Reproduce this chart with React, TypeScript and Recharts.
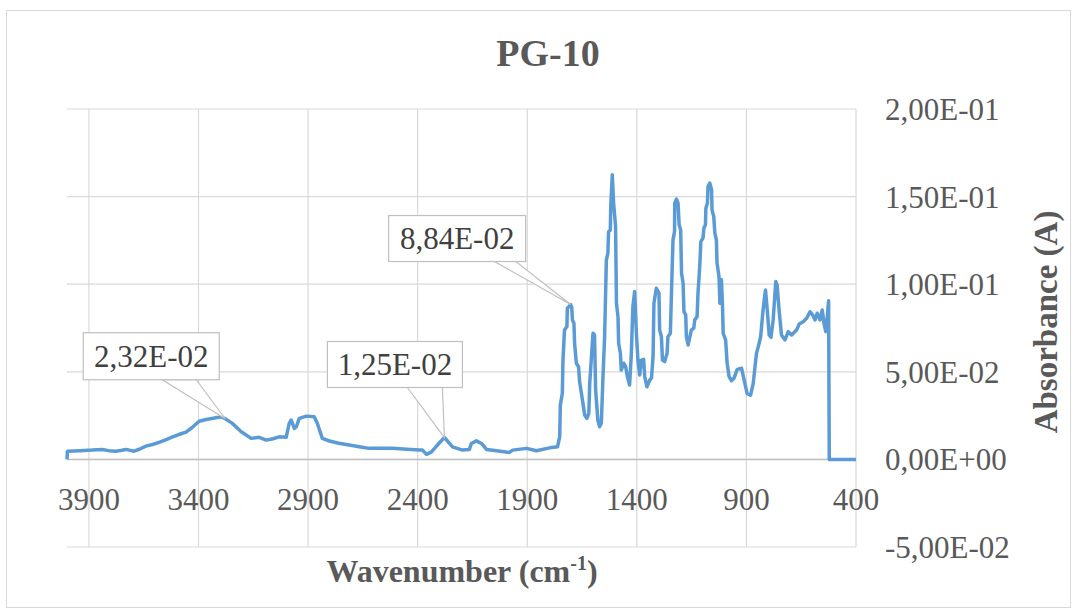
import { LineChart, Line, XAxis, YAxis, CartesianGrid, ReferenceLine, ReferenceDot } from 'recharts'

// FTIR spectrum of PG-10, wavenumber (cm-1) against absorbance (A)
const wavenumber = [
  4000, 3998, 3940, 3886, 3840, 3810, 3777, 3750, 3731, 3694, 3670, 3640, 3610, 3580, 3550, 3521,
  3490, 3457, 3429, 3397, 3365, 3320, 3295, 3278, 3247, 3205, 3160, 3123, 3091, 3060, 3032, 3000,
  2986, 2977, 2963, 2954, 2940, 2908, 2872, 2858, 2835, 2803, 2760, 2712, 2660, 2621, 2516, 2450,
  2392, 2378, 2360, 2337, 2310, 2278, 2241, 2196, 2164, 2155, 2132, 2109, 2086, 2040, 1981, 1967,
  1903, 1858, 1798, 1762, 1752, 1749, 1740, 1737, 1730, 1719, 1717, 1708, 1702, 1697, 1694, 1687,
  1684, 1676, 1666, 1661, 1653, 1646, 1638, 1628, 1619, 1615, 1608, 1600, 1593, 1588, 1578, 1570,
  1562, 1555, 1547, 1539, 1532, 1529, 1521, 1519, 1512, 1506, 1497, 1493, 1486, 1483, 1475, 1471,
  1460, 1451, 1443, 1433, 1425, 1418, 1410, 1402, 1395, 1387, 1379, 1369, 1364, 1354, 1341, 1333,
  1326, 1322, 1311, 1299, 1296, 1288, 1283, 1273, 1262, 1258, 1247, 1242, 1235, 1228, 1227, 1219,
  1212, 1207, 1200, 1196, 1189, 1185, 1177, 1174, 1166, 1158, 1151, 1140, 1136, 1125, 1121, 1113,
  1108, 1098, 1094, 1087, 1085, 1078, 1075, 1067, 1059, 1057, 1049, 1044, 1037, 1034, 1025, 1021,
  1017, 1014, 1009, 1006, 995, 988, 979, 968, 957, 942, 922, 907, 897, 881, 869, 854,
  846, 835, 824, 813, 805, 796, 788, 778, 766, 760, 751, 740, 724, 709, 694, 671,
  659, 641, 625, 610, 598, 587, 577, 564, 554, 546, 538, 531, 525, 522, 400,
]

const absorbance = [
  0, 0.0047, 0.005, 0.0053, 0.0057, 0.005, 0.0046, 0.0052, 0.0057, 0.0047, 0.0058, 0.0076, 0.0085, 0.0097, 0.0112, 0.0127,
  0.0142, 0.0156, 0.0182, 0.0218, 0.0228, 0.0238, 0.0243, 0.0232, 0.0207, 0.0158, 0.012, 0.0126, 0.011, 0.0118, 0.0129, 0.0126,
  0.0206, 0.0225, 0.0177, 0.0186, 0.0234, 0.0247, 0.0243, 0.0206, 0.012, 0.0105, 0.0092, 0.0082, 0.0071, 0.0063, 0.0063, 0.0058,
  0.0053, 0.0053, 0.0029, 0.0043, 0.0082, 0.0125, 0.0072, 0.0053, 0.0057, 0.0091, 0.0106, 0.0091, 0.0057, 0.0049, 0.004, 0.0053,
  0.0063, 0.0049, 0.0066, 0.0072, 0.0129, 0.031, 0.0377, 0.0567, 0.0739, 0.0758, 0.0863, 0.0875, 0.0884, 0.0868, 0.0796, 0.0777,
  0.0663, 0.0549, 0.0529, 0.0443, 0.0377, 0.032, 0.0253, 0.0234, 0.0263, 0.0434, 0.0567, 0.072, 0.071, 0.0396, 0.0225, 0.0186,
  0.0206, 0.0453, 0.07, 0.1139, 0.1177, 0.13, 0.131, 0.1443, 0.1625, 0.1463, 0.133, 0.0891, 0.0815, 0.0663, 0.0606, 0.051,
  0.0549, 0.0529, 0.0472, 0.0425, 0.0606, 0.0872, 0.0958, 0.072, 0.0567, 0.0482, 0.0567, 0.0571, 0.0472, 0.0415, 0.0453, 0.0464,
  0.0586, 0.0891, 0.0977, 0.0949, 0.0739, 0.07, 0.0567, 0.0558, 0.0606, 0.07, 0.072, 0.0949, 0.1253, 0.13, 0.1463, 0.1486,
  0.1463, 0.1339, 0.131, 0.1063, 0.1006, 0.0843, 0.0825, 0.07, 0.0653, 0.07, 0.0739, 0.0749, 0.0796, 0.0815, 0.0949, 0.11,
  0.1243, 0.1263, 0.132, 0.1339, 0.1434, 0.1463, 0.1558, 0.1577, 0.1539, 0.1425, 0.1386, 0.1291, 0.1253, 0.112, 0.1043, 0.0891,
  0.101, 0.1025, 0.0872, 0.072, 0.0682, 0.0549, 0.0472, 0.0449, 0.0463, 0.0514, 0.052, 0.0434, 0.0377, 0.0367, 0.0434, 0.0606,
  0.0643, 0.07, 0.0853, 0.0967, 0.0853, 0.071, 0.0697, 0.0796, 0.1015, 0.0996, 0.0853, 0.071, 0.0682, 0.0729, 0.071, 0.0739,
  0.0773, 0.0786, 0.0806, 0.0843, 0.0825, 0.0796, 0.0834, 0.0796, 0.0853, 0.0777, 0.0729, 0.0815, 0.0906, 0, 0,
]

const xTicks = [3900, 3400, 2900, 2400, 1900, 1400, 900, 400]
const yTicks = [-0.05, 0, 0.05, 0.1, 0.15, 0.2]
// wavenumbers of the points that carry a value callout
const calloutAt = [3278, 2278, 1702]

const data = wavenumber.map((w, i) => ({ w, a: absorbance[i] }))

const W = 1078
const H = 614
const PLOT_LEFT = 67
const PLOT_TOP = 109
const PLOT_RIGHT = 856
const PLOT_BOTTOM = 547
const X_MIN = 400
const X_MAX = 4000
const Y_MIN = -0.05
const Y_MAX = 0.2
const Y_AXIS_W = 150
const X_AXIS_H = 30
const ZERO_Y = PLOT_TOP + ((Y_MAX - 0) / (Y_MAX - Y_MIN)) * (PLOT_BOTTOM - PLOT_TOP)

const FONT = '"Liberation Serif", "Times New Roman", serif'
const TEXT = '#595959'
const GRID = '#d9d9d9'
const BLUE = '#5b9bd5'

// Excel style scientific format: 1,50E-01
function sci(v: number) {
  if (v === 0) return '0,00E+00'
  const e = Math.floor(Math.log10(Math.abs(v)) + 1e-9)
  const m = (v / Math.pow(10, e)).toFixed(2).replace('.', ',')
  const sign = e < 0 ? '-' : '+'
  return `${m}E${sign}${String(Math.abs(e)).padStart(2, '0')}`
}

// vertical grid only at the labelled wavenumbers (none on the 4000 edge)
const verticalGrid = () =>
  xTicks.map((t) => PLOT_LEFT + ((X_MAX - t) / (X_MAX - X_MIN)) * (PLOT_RIGHT - PLOT_LEFT))

// callout box + wedge offsets relative to the pointed data point
const calloutStyle: Record<number, { bx: number; by: number; bw: number; bh: number; p1: number; p2: number; py: number }> = {
  3278: { bx: -142, by: -86, bw: 136, bh: 47, p1: -63, p2: -29, py: -39 },
  2278: { bx: -117, by: -96, bw: 135, bh: 46, p1: -37, p2: -2, py: -50 },
  1702: { bx: -182, by: -89, bw: 137, bh: 46, p1: -78, p2: -56, py: -44 },
}

function Callout(props: any) {
  const { cx, cy, w, value } = props
  const s = calloutStyle[w]
  if (cx == null || !s) return null
  return (
    <g>
      <polygon
        points={`${cx + s.p1},${cy + s.py} ${cx},${cy} ${cx + s.p2},${cy + s.py}`}
        fill="#fff"
        stroke="#bfbfbf"
        strokeWidth={1.2}
      />
      <rect x={cx + s.bx} y={cy + s.by} width={s.bw} height={s.bh} fill="#fff" stroke="#bfbfbf" strokeWidth={1.2} />
      <text
        x={cx + s.bx + s.bw / 2}
        y={cy + s.by + s.bh / 2}
        dy="0.35em"
        textAnchor="middle"
        fontFamily={FONT}
        fontSize={31}
        fill="#404040"
      >
        {sci(value)}
      </text>
    </g>
  )
}

function XTick(props: any) {
  const { x, payload } = props
  return (
    <text x={x} y={ZERO_Y + 51} textAnchor="middle" fontFamily={FONT} fontSize={31} fill={TEXT}>
      {payload.value}
    </text>
  )
}

export default function App() {
  return (
    <div style={{ position: 'absolute', left: 0, top: 0, width: W, height: H, background: '#fff' }}>
      <div
        style={{
          position: 'absolute',
          left: 6,
          top: 10,
          width: 1065,
          height: 598,
          border: `1px solid ${GRID}`,
          boxSizing: 'border-box',
        }}
      />
      <div style={{ position: 'absolute', left: 0, top: 0 }}>
        <LineChart
          width={W}
          height={H}
          data={data}
          margin={{
            top: PLOT_TOP,
            left: PLOT_LEFT,
            right: W - PLOT_RIGHT - Y_AXIS_W,
            bottom: H - PLOT_BOTTOM - X_AXIS_H,
          }}
        >
          <CartesianGrid stroke={GRID} strokeWidth={1.2} verticalCoordinatesGenerator={verticalGrid} />
          <XAxis
            dataKey="w"
            type="number"
            domain={[X_MIN, X_MAX]}
            reversed
            ticks={xTicks}
            height={X_AXIS_H}
            axisLine={false}
            tickLine={false}
            tick={<XTick />}
            interval={0}
          />
          <YAxis
            orientation="right"
            type="number"
            domain={[Y_MIN, Y_MAX]}
            ticks={yTicks}
            width={Y_AXIS_W}
            axisLine={false}
            tickLine={false}
            tickSize={0}
            tickMargin={29}
            interval={0}
            tickFormatter={sci}
            tick={{ fontFamily: FONT, fontSize: 31, fill: TEXT }}
          />
          <ReferenceLine y={0} stroke="#bfbfbf" strokeWidth={1.5} />
          <Line
            type="linear"
            dataKey="a"
            stroke={BLUE}
            strokeWidth={3.5}
            strokeLinejoin="round"
            dot={false}
            isAnimationActive={false}
          />
          {calloutAt.map((w) => {
            const a = absorbance[wavenumber.indexOf(w)]
            return (
              <ReferenceDot
                key={w}
                x={w}
                y={a}
                r={0}
                shape={(p: any) => <Callout {...p} w={w} value={a} />}
              />
            )
          })}
        </LineChart>
      </div>
      <svg width={W} height={H} style={{ position: 'absolute', left: 0, top: 0, pointerEvents: 'none' }}>
        <text x={548} y={66} textAnchor="middle" fontFamily={FONT} fontSize={38} fontWeight="bold" fill={TEXT}>
          PG-10
        </text>
        <text x={462} y={582} textAnchor="middle" fontFamily={FONT} fontSize={32} fontWeight="bold" fill={TEXT}>
          Wavenumber (cm
          <tspan fontSize={20} dy={-12}>-1</tspan>
          <tspan dy={12}>)</tspan>
        </text>
        <text
          transform="translate(1057, 322) rotate(-90)"
          textAnchor="middle"
          fontFamily={FONT}
          fontSize={33}
          fontWeight="bold"
          fill={TEXT}
        >
          Absorbance (A)
        </text>
      </svg>
    </div>
  )
}
